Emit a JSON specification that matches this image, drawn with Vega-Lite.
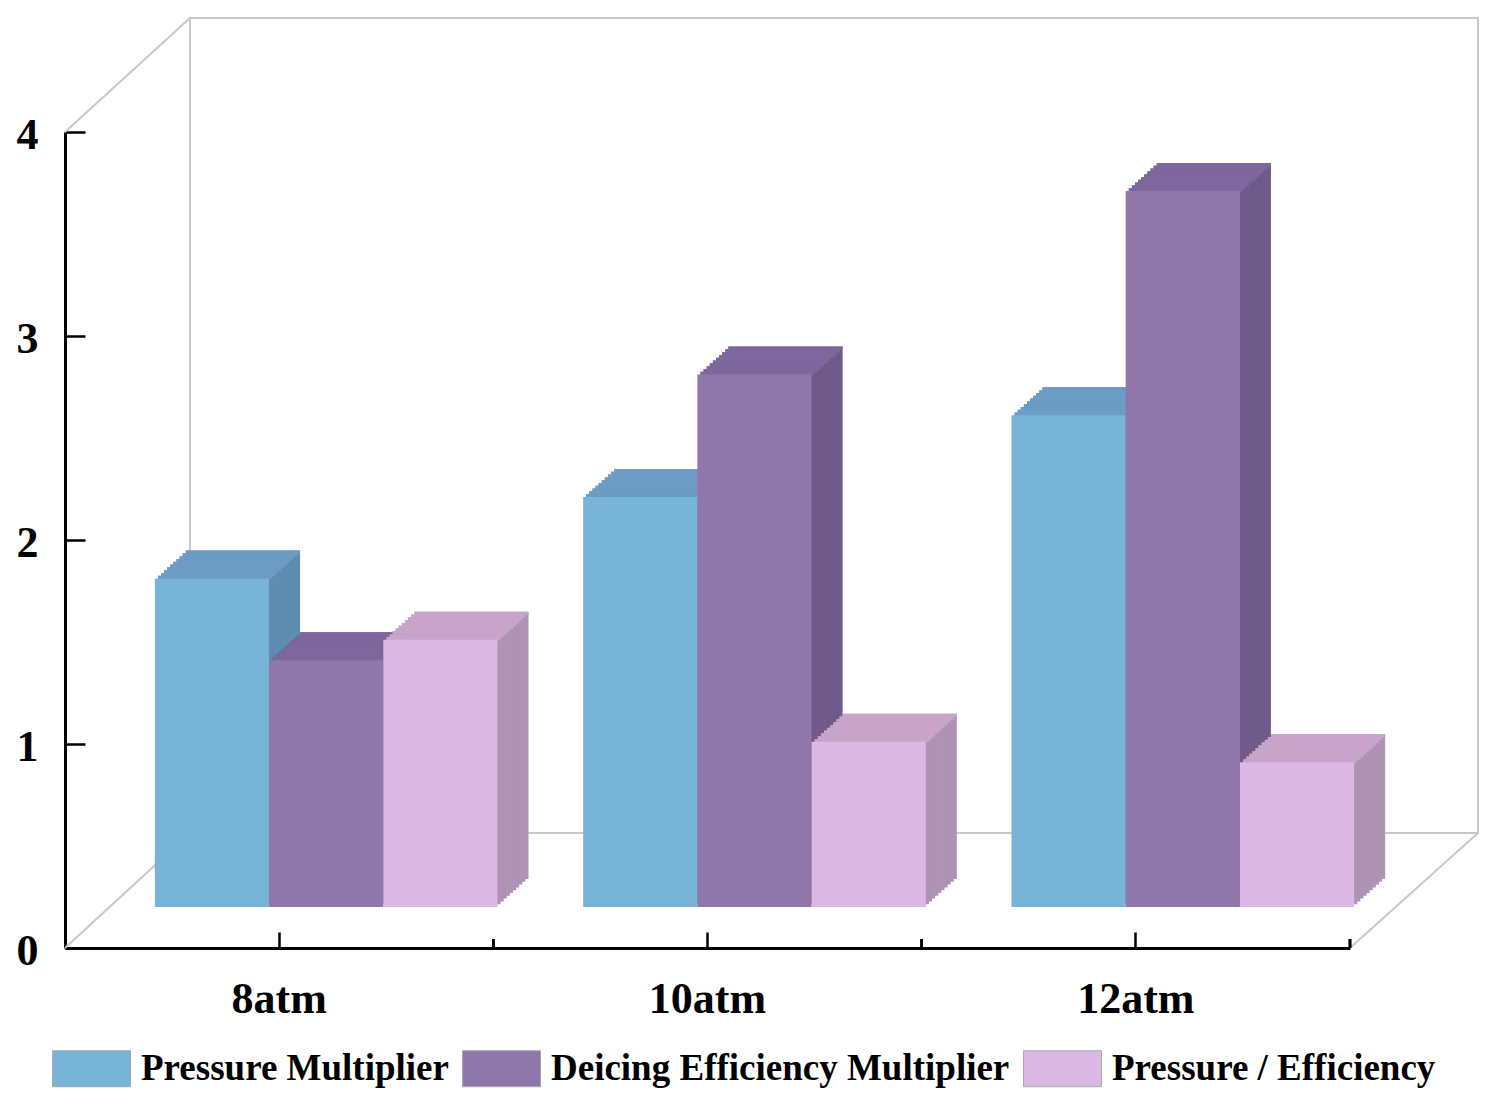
{
  "$schema": "https://vega.github.io/schema/vega-lite/v6.json",
  "width": 1285,
  "height": 816,
  "autosize": "none",
  "padding": {"left": 65, "top": 132, "right": 145, "bottom": 154},
  "background": "white",
  "config": {"view": {"stroke": null}, "font": "Liberation Serif", "axis": {"grid": false}},
  "data": {"values": [
    {"p": "8atm", "s": "Pressure Multiplier", "v": 1.61},
    {"p": "8atm", "s": "Deicing Efficiency Multiplier", "v": 1.21},
    {"p": "8atm", "s": "Pressure / Efficiency", "v": 1.31},
    {"p": "10atm", "s": "Pressure Multiplier", "v": 2.01},
    {"p": "10atm", "s": "Deicing Efficiency Multiplier", "v": 2.61},
    {"p": "10atm", "s": "Pressure / Efficiency", "v": 0.81},
    {"p": "12atm", "s": "Pressure Multiplier", "v": 2.41},
    {"p": "12atm", "s": "Deicing Efficiency Multiplier", "v": 3.51},
    {"p": "12atm", "s": "Pressure / Efficiency", "v": 0.71}
  ]},
  "resolve": {
    "scale": {"x": "independent", "y": "independent", "xOffset": "independent", "color": "independent"},
    "axis": {"x": "independent", "y": "independent"},
    "legend": {"color": "independent"}
  },
  "layer": [
    {"data": {"values": [{}]}, "mark": {"type": "rect", "fill": "transparent", "stroke": "#c8c8c8", "strokeWidth": 2},
     "encoding": {
       "x": {"datum": 0, "type": "quantitative", "scale": {"domain": [0, 1], "range": [125, 1413], "nice": false, "zero": false}, "axis": null},
       "x2": {"datum": 1},
       "y": {"datum": 0, "type": "quantitative", "scale": {"domain": [0, 4], "range": [701, -114], "nice": false, "zero": false}, "axis": null},
       "y2": {"datum": 4}}},
    {"data": {"values": [{}]}, "mark": {"type": "rule", "color": "#c8c8c8", "strokeWidth": 2, "x2Offset": 125, "y2Offset": -114},
     "encoding": {
       "x": {"datum": 0, "type": "quantitative", "scale": {"domain": [0, 1], "nice": false, "zero": false}, "axis": null},
       "x2": {"datum": 0},
       "y": {"datum": 4, "type": "quantitative", "scale": {"domain": [0, 4], "nice": false, "zero": false}, "axis": null},
       "y2": {"datum": 4}}},
    {"data": {"values": [{}]}, "mark": {"type": "rule", "color": "#c8c8c8", "strokeWidth": 2, "x2Offset": 125, "y2Offset": -115},
     "encoding": {
       "x": {"datum": 0, "type": "quantitative", "scale": {"domain": [0, 1], "nice": false, "zero": false}, "axis": null},
       "x2": {"datum": 0},
       "y": {"datum": 0, "type": "quantitative", "scale": {"domain": [0, 4], "nice": false, "zero": false}, "axis": null},
       "y2": {"datum": 0}}},
    {"data": {"values": [{}]}, "mark": {"type": "rule", "color": "#c8c8c8", "strokeWidth": 2, "x2Offset": 128, "y2Offset": -115},
     "encoding": {
       "x": {"datum": 1, "type": "quantitative", "scale": {"domain": [0, 1], "nice": false, "zero": false}, "axis": null},
       "x2": {"datum": 1},
       "y": {"datum": 0, "type": "quantitative", "scale": {"domain": [0, 4], "nice": false, "zero": false}, "axis": null},
       "y2": {"datum": 0}}},
    {"mark": {"type": "rule", "color": "black", "strokeWidth": 2.5, "y2Offset": -9},
     "encoding": {
       "x": {"field": "p", "type": "nominal", "sort": ["8atm", "10atm", "12atm"], "bandPosition": 1.125,
             "scale": {"paddingInner": 0.2, "paddingOuter": 0.1},
             "axis": {"title": null, "bandPosition": 0.5, "labelAngle": 0, "labelFont": "Liberation Serif", "labelFontSize": 44, "labelFontWeight": "bold", "labelColor": "black", "labelPadding": 45, "tickSize": -16, "tickWidth": 2.5, "tickColor": "black", "domainColor": "black", "domainWidth": 3}},
       "y": {"datum": 0, "type": "quantitative", "scale": {"domain": [0, 4], "nice": false, "zero": false},
             "axis": {"title": null, "values": [0, 1, 2, 3, 4], "format": "d", "labelFont": "Liberation Serif", "labelFontSize": 44, "labelFontWeight": "bold", "labelColor": "black", "labelPadding": 47, "labelOffset": 3, "tickSize": -20, "tickWidth": 2.5, "tickColor": "black", "domainColor": "black", "domainWidth": 3, "grid": false}},
       "y2": {"datum": 0}}},

    {"mark": {"type": "bar"}, "encoding": {"x": {"field": "p", "type": "nominal", "sort": ["8atm", "10atm", "12atm"], "scale": {"range": [78, 1363], "paddingInner": 0.2, "paddingOuter": 0.1}, "axis": null}, "xOffset": {"field": "s", "type": "nominal", "sort": ["Pressure Multiplier", "Deicing Efficiency Multiplier", "Pressure / Efficiency"], "scale": {"paddingInner": 0, "paddingOuter": 0}}, "y": {"field": "v", "type": "quantitative", "stack": null, "scale": {"domain": [0, 4], "nice": false, "range": [747, -69]}, "axis": null}, "color": {"field": "s", "type": "nominal", "scale": {"domain": ["Pressure Multiplier", "Deicing Efficiency Multiplier", "Pressure / Efficiency"], "range": ["#5f8cb0", "#6f5a89", "#ae93b4"]}, "legend": null}}},
    {"mark": {"type": "bar"}, "encoding": {"x": {"field": "p", "type": "nominal", "sort": ["8atm", "10atm", "12atm"], "scale": {"range": [74.9, 1359.9], "paddingInner": 0.2, "paddingOuter": 0.1}, "axis": null}, "xOffset": {"field": "s", "type": "nominal", "sort": ["Pressure Multiplier", "Deicing Efficiency Multiplier", "Pressure / Efficiency"], "scale": {"paddingInner": 0, "paddingOuter": 0}}, "y": {"field": "v", "type": "quantitative", "stack": null, "scale": {"domain": [0, 4], "nice": false, "range": [749.8, -66.2]}, "axis": null}, "color": {"field": "s", "type": "nominal", "scale": {"domain": ["Pressure Multiplier", "Deicing Efficiency Multiplier", "Pressure / Efficiency"], "range": ["#5f8cb0", "#6f5a89", "#ae93b4"]}, "legend": null}}},
    {"mark": {"type": "bar"}, "encoding": {"x": {"field": "p", "type": "nominal", "sort": ["8atm", "10atm", "12atm"], "scale": {"range": [71.8, 1356.8], "paddingInner": 0.2, "paddingOuter": 0.1}, "axis": null}, "xOffset": {"field": "s", "type": "nominal", "sort": ["Pressure Multiplier", "Deicing Efficiency Multiplier", "Pressure / Efficiency"], "scale": {"paddingInner": 0, "paddingOuter": 0}}, "y": {"field": "v", "type": "quantitative", "stack": null, "scale": {"domain": [0, 4], "nice": false, "range": [752.6, -63.4]}, "axis": null}, "color": {"field": "s", "type": "nominal", "scale": {"domain": ["Pressure Multiplier", "Deicing Efficiency Multiplier", "Pressure / Efficiency"], "range": ["#5f8cb0", "#6f5a89", "#ae93b4"]}, "legend": null}}},
    {"mark": {"type": "bar"}, "encoding": {"x": {"field": "p", "type": "nominal", "sort": ["8atm", "10atm", "12atm"], "scale": {"range": [68.7, 1353.7], "paddingInner": 0.2, "paddingOuter": 0.1}, "axis": null}, "xOffset": {"field": "s", "type": "nominal", "sort": ["Pressure Multiplier", "Deicing Efficiency Multiplier", "Pressure / Efficiency"], "scale": {"paddingInner": 0, "paddingOuter": 0}}, "y": {"field": "v", "type": "quantitative", "stack": null, "scale": {"domain": [0, 4], "nice": false, "range": [755.4, -60.6]}, "axis": null}, "color": {"field": "s", "type": "nominal", "scale": {"domain": ["Pressure Multiplier", "Deicing Efficiency Multiplier", "Pressure / Efficiency"], "range": ["#5f8cb0", "#6f5a89", "#ae93b4"]}, "legend": null}}},
    {"mark": {"type": "bar"}, "encoding": {"x": {"field": "p", "type": "nominal", "sort": ["8atm", "10atm", "12atm"], "scale": {"range": [65.6, 1350.6], "paddingInner": 0.2, "paddingOuter": 0.1}, "axis": null}, "xOffset": {"field": "s", "type": "nominal", "sort": ["Pressure Multiplier", "Deicing Efficiency Multiplier", "Pressure / Efficiency"], "scale": {"paddingInner": 0, "paddingOuter": 0}}, "y": {"field": "v", "type": "quantitative", "stack": null, "scale": {"domain": [0, 4], "nice": false, "range": [758.2, -57.8]}, "axis": null}, "color": {"field": "s", "type": "nominal", "scale": {"domain": ["Pressure Multiplier", "Deicing Efficiency Multiplier", "Pressure / Efficiency"], "range": ["#5f8cb0", "#6f5a89", "#ae93b4"]}, "legend": null}}},
    {"mark": {"type": "bar"}, "encoding": {"x": {"field": "p", "type": "nominal", "sort": ["8atm", "10atm", "12atm"], "scale": {"range": [62.5, 1347.5], "paddingInner": 0.2, "paddingOuter": 0.1}, "axis": null}, "xOffset": {"field": "s", "type": "nominal", "sort": ["Pressure Multiplier", "Deicing Efficiency Multiplier", "Pressure / Efficiency"], "scale": {"paddingInner": 0, "paddingOuter": 0}}, "y": {"field": "v", "type": "quantitative", "stack": null, "scale": {"domain": [0, 4], "nice": false, "range": [761, -55]}, "axis": null}, "color": {"field": "s", "type": "nominal", "scale": {"domain": ["Pressure Multiplier", "Deicing Efficiency Multiplier", "Pressure / Efficiency"], "range": ["#5f8cb0", "#6f5a89", "#ae93b4"]}, "legend": null}}},
    {"mark": {"type": "bar"}, "encoding": {"x": {"field": "p", "type": "nominal", "sort": ["8atm", "10atm", "12atm"], "scale": {"range": [59.4, 1344.4], "paddingInner": 0.2, "paddingOuter": 0.1}, "axis": null}, "xOffset": {"field": "s", "type": "nominal", "sort": ["Pressure Multiplier", "Deicing Efficiency Multiplier", "Pressure / Efficiency"], "scale": {"paddingInner": 0, "paddingOuter": 0}}, "y": {"field": "v", "type": "quantitative", "stack": null, "scale": {"domain": [0, 4], "nice": false, "range": [763.8, -52.2]}, "axis": null}, "color": {"field": "s", "type": "nominal", "scale": {"domain": ["Pressure Multiplier", "Deicing Efficiency Multiplier", "Pressure / Efficiency"], "range": ["#5f8cb0", "#6f5a89", "#ae93b4"]}, "legend": null}}},
    {"mark": {"type": "bar"}, "encoding": {"x": {"field": "p", "type": "nominal", "sort": ["8atm", "10atm", "12atm"], "scale": {"range": [56.3, 1341.3], "paddingInner": 0.2, "paddingOuter": 0.1}, "axis": null}, "xOffset": {"field": "s", "type": "nominal", "sort": ["Pressure Multiplier", "Deicing Efficiency Multiplier", "Pressure / Efficiency"], "scale": {"paddingInner": 0, "paddingOuter": 0}}, "y": {"field": "v", "type": "quantitative", "stack": null, "scale": {"domain": [0, 4], "nice": false, "range": [766.6, -49.4]}, "axis": null}, "color": {"field": "s", "type": "nominal", "scale": {"domain": ["Pressure Multiplier", "Deicing Efficiency Multiplier", "Pressure / Efficiency"], "range": ["#5f8cb0", "#6f5a89", "#ae93b4"]}, "legend": null}}},
    {"mark": {"type": "bar"}, "encoding": {"x": {"field": "p", "type": "nominal", "sort": ["8atm", "10atm", "12atm"], "scale": {"range": [53.2, 1338.2], "paddingInner": 0.2, "paddingOuter": 0.1}, "axis": null}, "xOffset": {"field": "s", "type": "nominal", "sort": ["Pressure Multiplier", "Deicing Efficiency Multiplier", "Pressure / Efficiency"], "scale": {"paddingInner": 0, "paddingOuter": 0}}, "y": {"field": "v", "type": "quantitative", "stack": null, "scale": {"domain": [0, 4], "nice": false, "range": [769.4, -46.6]}, "axis": null}, "color": {"field": "s", "type": "nominal", "scale": {"domain": ["Pressure Multiplier", "Deicing Efficiency Multiplier", "Pressure / Efficiency"], "range": ["#5f8cb0", "#6f5a89", "#ae93b4"]}, "legend": null}}},
    {"mark": {"type": "bar"}, "encoding": {"x": {"field": "p", "type": "nominal", "sort": ["8atm", "10atm", "12atm"], "scale": {"range": [50.1, 1335.1], "paddingInner": 0.2, "paddingOuter": 0.1}, "axis": null}, "xOffset": {"field": "s", "type": "nominal", "sort": ["Pressure Multiplier", "Deicing Efficiency Multiplier", "Pressure / Efficiency"], "scale": {"paddingInner": 0, "paddingOuter": 0}}, "y": {"field": "v", "type": "quantitative", "stack": null, "scale": {"domain": [0, 4], "nice": false, "range": [772.2, -43.8]}, "axis": null}, "color": {"field": "s", "type": "nominal", "scale": {"domain": ["Pressure Multiplier", "Deicing Efficiency Multiplier", "Pressure / Efficiency"], "range": ["#5f8cb0", "#6f5a89", "#ae93b4"]}, "legend": null}}},

    {"mark": {"type": "bar", "y2Offset": 3.3}, "encoding": {"x": {"field": "p", "type": "nominal", "sort": ["8atm", "10atm", "12atm"], "scale": {"range": [78, 1363], "paddingInner": 0.2, "paddingOuter": 0.1}, "axis": null}, "xOffset": {"field": "s", "type": "nominal", "sort": ["Pressure Multiplier", "Deicing Efficiency Multiplier", "Pressure / Efficiency"], "scale": {"paddingInner": 0, "paddingOuter": 0}}, "y": {"field": "v", "type": "quantitative", "stack": null, "scale": {"domain": [0, 4], "nice": false, "range": [747, -69]}, "axis": null}, "y2": {"field": "v"}, "color": {"field": "s", "type": "nominal", "scale": {"domain": ["Pressure Multiplier", "Deicing Efficiency Multiplier", "Pressure / Efficiency"], "range": ["#6c9cc3", "#7e679c", "#c8a4ca"]}, "legend": null}}},
    {"mark": {"type": "bar", "y2Offset": 3.3}, "encoding": {"x": {"field": "p", "type": "nominal", "sort": ["8atm", "10atm", "12atm"], "scale": {"range": [74.9, 1359.9], "paddingInner": 0.2, "paddingOuter": 0.1}, "axis": null}, "xOffset": {"field": "s", "type": "nominal", "sort": ["Pressure Multiplier", "Deicing Efficiency Multiplier", "Pressure / Efficiency"], "scale": {"paddingInner": 0, "paddingOuter": 0}}, "y": {"field": "v", "type": "quantitative", "stack": null, "scale": {"domain": [0, 4], "nice": false, "range": [749.8, -66.2]}, "axis": null}, "y2": {"field": "v"}, "color": {"field": "s", "type": "nominal", "scale": {"domain": ["Pressure Multiplier", "Deicing Efficiency Multiplier", "Pressure / Efficiency"], "range": ["#6c9cc3", "#7e679c", "#c8a4ca"]}, "legend": null}}},
    {"mark": {"type": "bar", "y2Offset": 3.3}, "encoding": {"x": {"field": "p", "type": "nominal", "sort": ["8atm", "10atm", "12atm"], "scale": {"range": [71.8, 1356.8], "paddingInner": 0.2, "paddingOuter": 0.1}, "axis": null}, "xOffset": {"field": "s", "type": "nominal", "sort": ["Pressure Multiplier", "Deicing Efficiency Multiplier", "Pressure / Efficiency"], "scale": {"paddingInner": 0, "paddingOuter": 0}}, "y": {"field": "v", "type": "quantitative", "stack": null, "scale": {"domain": [0, 4], "nice": false, "range": [752.6, -63.4]}, "axis": null}, "y2": {"field": "v"}, "color": {"field": "s", "type": "nominal", "scale": {"domain": ["Pressure Multiplier", "Deicing Efficiency Multiplier", "Pressure / Efficiency"], "range": ["#6c9cc3", "#7e679c", "#c8a4ca"]}, "legend": null}}},
    {"mark": {"type": "bar", "y2Offset": 3.3}, "encoding": {"x": {"field": "p", "type": "nominal", "sort": ["8atm", "10atm", "12atm"], "scale": {"range": [68.7, 1353.7], "paddingInner": 0.2, "paddingOuter": 0.1}, "axis": null}, "xOffset": {"field": "s", "type": "nominal", "sort": ["Pressure Multiplier", "Deicing Efficiency Multiplier", "Pressure / Efficiency"], "scale": {"paddingInner": 0, "paddingOuter": 0}}, "y": {"field": "v", "type": "quantitative", "stack": null, "scale": {"domain": [0, 4], "nice": false, "range": [755.4, -60.6]}, "axis": null}, "y2": {"field": "v"}, "color": {"field": "s", "type": "nominal", "scale": {"domain": ["Pressure Multiplier", "Deicing Efficiency Multiplier", "Pressure / Efficiency"], "range": ["#6c9cc3", "#7e679c", "#c8a4ca"]}, "legend": null}}},
    {"mark": {"type": "bar", "y2Offset": 3.3}, "encoding": {"x": {"field": "p", "type": "nominal", "sort": ["8atm", "10atm", "12atm"], "scale": {"range": [65.6, 1350.6], "paddingInner": 0.2, "paddingOuter": 0.1}, "axis": null}, "xOffset": {"field": "s", "type": "nominal", "sort": ["Pressure Multiplier", "Deicing Efficiency Multiplier", "Pressure / Efficiency"], "scale": {"paddingInner": 0, "paddingOuter": 0}}, "y": {"field": "v", "type": "quantitative", "stack": null, "scale": {"domain": [0, 4], "nice": false, "range": [758.2, -57.8]}, "axis": null}, "y2": {"field": "v"}, "color": {"field": "s", "type": "nominal", "scale": {"domain": ["Pressure Multiplier", "Deicing Efficiency Multiplier", "Pressure / Efficiency"], "range": ["#6c9cc3", "#7e679c", "#c8a4ca"]}, "legend": null}}},
    {"mark": {"type": "bar", "y2Offset": 3.3}, "encoding": {"x": {"field": "p", "type": "nominal", "sort": ["8atm", "10atm", "12atm"], "scale": {"range": [62.5, 1347.5], "paddingInner": 0.2, "paddingOuter": 0.1}, "axis": null}, "xOffset": {"field": "s", "type": "nominal", "sort": ["Pressure Multiplier", "Deicing Efficiency Multiplier", "Pressure / Efficiency"], "scale": {"paddingInner": 0, "paddingOuter": 0}}, "y": {"field": "v", "type": "quantitative", "stack": null, "scale": {"domain": [0, 4], "nice": false, "range": [761, -55]}, "axis": null}, "y2": {"field": "v"}, "color": {"field": "s", "type": "nominal", "scale": {"domain": ["Pressure Multiplier", "Deicing Efficiency Multiplier", "Pressure / Efficiency"], "range": ["#6c9cc3", "#7e679c", "#c8a4ca"]}, "legend": null}}},
    {"mark": {"type": "bar", "y2Offset": 3.3}, "encoding": {"x": {"field": "p", "type": "nominal", "sort": ["8atm", "10atm", "12atm"], "scale": {"range": [59.4, 1344.4], "paddingInner": 0.2, "paddingOuter": 0.1}, "axis": null}, "xOffset": {"field": "s", "type": "nominal", "sort": ["Pressure Multiplier", "Deicing Efficiency Multiplier", "Pressure / Efficiency"], "scale": {"paddingInner": 0, "paddingOuter": 0}}, "y": {"field": "v", "type": "quantitative", "stack": null, "scale": {"domain": [0, 4], "nice": false, "range": [763.8, -52.2]}, "axis": null}, "y2": {"field": "v"}, "color": {"field": "s", "type": "nominal", "scale": {"domain": ["Pressure Multiplier", "Deicing Efficiency Multiplier", "Pressure / Efficiency"], "range": ["#6c9cc3", "#7e679c", "#c8a4ca"]}, "legend": null}}},
    {"mark": {"type": "bar", "y2Offset": 3.3}, "encoding": {"x": {"field": "p", "type": "nominal", "sort": ["8atm", "10atm", "12atm"], "scale": {"range": [56.3, 1341.3], "paddingInner": 0.2, "paddingOuter": 0.1}, "axis": null}, "xOffset": {"field": "s", "type": "nominal", "sort": ["Pressure Multiplier", "Deicing Efficiency Multiplier", "Pressure / Efficiency"], "scale": {"paddingInner": 0, "paddingOuter": 0}}, "y": {"field": "v", "type": "quantitative", "stack": null, "scale": {"domain": [0, 4], "nice": false, "range": [766.6, -49.4]}, "axis": null}, "y2": {"field": "v"}, "color": {"field": "s", "type": "nominal", "scale": {"domain": ["Pressure Multiplier", "Deicing Efficiency Multiplier", "Pressure / Efficiency"], "range": ["#6c9cc3", "#7e679c", "#c8a4ca"]}, "legend": null}}},
    {"mark": {"type": "bar", "y2Offset": 3.3}, "encoding": {"x": {"field": "p", "type": "nominal", "sort": ["8atm", "10atm", "12atm"], "scale": {"range": [53.2, 1338.2], "paddingInner": 0.2, "paddingOuter": 0.1}, "axis": null}, "xOffset": {"field": "s", "type": "nominal", "sort": ["Pressure Multiplier", "Deicing Efficiency Multiplier", "Pressure / Efficiency"], "scale": {"paddingInner": 0, "paddingOuter": 0}}, "y": {"field": "v", "type": "quantitative", "stack": null, "scale": {"domain": [0, 4], "nice": false, "range": [769.4, -46.6]}, "axis": null}, "y2": {"field": "v"}, "color": {"field": "s", "type": "nominal", "scale": {"domain": ["Pressure Multiplier", "Deicing Efficiency Multiplier", "Pressure / Efficiency"], "range": ["#6c9cc3", "#7e679c", "#c8a4ca"]}, "legend": null}}},
    {"mark": {"type": "bar", "y2Offset": 3.3}, "encoding": {"x": {"field": "p", "type": "nominal", "sort": ["8atm", "10atm", "12atm"], "scale": {"range": [50.1, 1335.1], "paddingInner": 0.2, "paddingOuter": 0.1}, "axis": null}, "xOffset": {"field": "s", "type": "nominal", "sort": ["Pressure Multiplier", "Deicing Efficiency Multiplier", "Pressure / Efficiency"], "scale": {"paddingInner": 0, "paddingOuter": 0}}, "y": {"field": "v", "type": "quantitative", "stack": null, "scale": {"domain": [0, 4], "nice": false, "range": [772.2, -43.8]}, "axis": null}, "y2": {"field": "v"}, "color": {"field": "s", "type": "nominal", "scale": {"domain": ["Pressure Multiplier", "Deicing Efficiency Multiplier", "Pressure / Efficiency"], "range": ["#6c9cc3", "#7e679c", "#c8a4ca"]}, "legend": null}}},

    {"mark": {"type": "bar"}, "encoding": {"x": {"field": "p", "type": "nominal", "sort": ["8atm", "10atm", "12atm"], "scale": {"range": [47, 1332], "paddingInner": 0.2, "paddingOuter": 0.1}, "axis": null}, "xOffset": {"field": "s", "type": "nominal", "sort": ["Pressure Multiplier", "Deicing Efficiency Multiplier", "Pressure / Efficiency"], "scale": {"paddingInner": 0, "paddingOuter": 0}}, "y": {"field": "v", "type": "quantitative", "stack": null, "scale": {"domain": [0, 4], "nice": false, "range": [775, -41]}, "axis": null},
      "color": {"field": "s", "type": "nominal", "scale": {"domain": ["Pressure Multiplier", "Deicing Efficiency Multiplier", "Pressure / Efficiency"], "range": ["#78b3d8", "#8f76ab", "#dcb8e5"]},
        "legend": {"orient": "none", "legendX": -13, "legendY": 897, "direction": "horizontal", "title": null, "padding": 0,
          "symbolType": "M-1,-0.4615H1V0.4615H-1Z", "symbolSize": 6084, "symbolStrokeColor": "#a8a8a8", "symbolStrokeWidth": 1, "symbolOpacity": 1,
          "labelFont": "Liberation Serif", "labelFontSize": 37, "labelFontWeight": "bold", "labelColor": "black", "labelOffset": 10, "labelLimit": 1000, "columnPadding": 11}}}}
  ]
}
